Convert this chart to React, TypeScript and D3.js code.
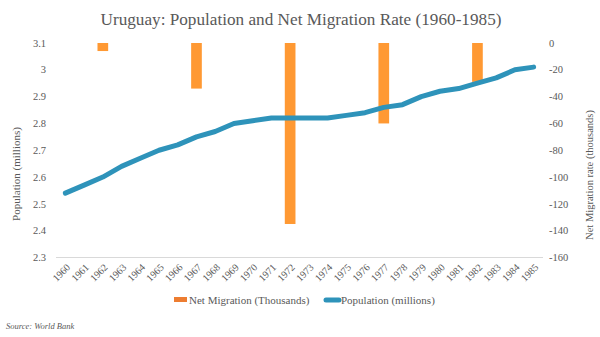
import React from "react";
import * as d3 from "d3";

const years = d3.range(1960, 1986).map(String);
const population = [2.54, 2.57, 2.60, 2.64, 2.67, 2.70, 2.72, 2.75, 2.77, 2.80, 2.81, 2.82, 2.82, 2.82, 2.82, 2.83, 2.84, 2.86, 2.87, 2.90, 2.92, 2.93, 2.95, 2.97, 3.00, 3.01];
const migrationYears = ["1962", "1967", "1972", "1977", "1982"];
const migration = [-6, -34, -135, -60, -29];
const leftTicks = [2.3, 2.4, 2.5, 2.6, 2.7, 2.8, 2.9, 3.0, 3.1];
const rightTicks = [0, -20, -40, -60, -80, -100, -120, -140, -160];

const FONT = "'Liberation Serif', 'DejaVu Serif', serif";
const TEXT = "#595959";

export default function App() {
  const W = 600, H = 337;
  const left = 56, right = 543, top = 43, bottom = 257.5;
  const x = d3.scaleBand<string>().domain(years).range([left, right]).paddingInner(0.43).paddingOuter(0.215);
  const xp = d3.scalePoint<string>().domain(years).range([left, right]).padding(0.5);
  const yL = d3.scaleLinear().domain([2.3, 3.1]).range([bottom, top]);
  const yR = d3.scaleLinear().domain([-160, 0]).range([bottom, top]);
  const line = d3.line<number>().x((_, i) => xp(years[i])!).y((d) => yL(d)).curve(d3.curveLinear);

  return (
    <svg width={W} height={H} style={{ position: "absolute", left: 0, top: 0, background: "#fff" }} fontFamily={FONT}>
      <rect width={W} height={H} fill="#fff" />
      <text x={301} y={25} textAnchor="middle" fontSize={17.2} fill={TEXT}>
        Uruguay: Population and Net Migration Rate (1960-1985)
      </text>
      <line x1={left} x2={right} y1={bottom} y2={bottom} stroke="#d9d9d9" strokeWidth={1} />
      {leftTicks.map((t) => (
        <text key={t} x={46} y={yL(t)} dy="0.35em" textAnchor="end" fontSize={10.5} fill={TEXT}>
          {d3.format("~g")(t)}
        </text>
      ))}
      {rightTicks.map((t) => (
        <text key={t} x={549} y={yR(t)} dy="0.35em" textAnchor="start" fontSize={10.5} fill={TEXT}>
          {String(t)}
        </text>
      ))}
      <text transform={`translate(20,174) rotate(-90)`} textAnchor="middle" fontSize={11} fill={TEXT}>
        Population (millions)
      </text>
      <text transform={`translate(593,175) rotate(-90)`} textAnchor="middle" fontSize={10.5} fill={TEXT}>
        Net Migration rate (thousands)
      </text>
      {migrationYears.map((yr, i) => (
        <rect key={yr} x={x(yr)} y={yR(0)} width={x.bandwidth()} height={yR(migration[i]) - yR(0)} fill="#FF9933" />
      ))}
      <path d={line(population)!} fill="none" stroke="#2E93BA" strokeWidth={5} strokeLinecap="round" strokeLinejoin="round" />
      {years.map((yr) => (
        <text key={yr} transform={`translate(${xp(yr)! + 3},${bottom + 8}) rotate(-45)`} textAnchor="end" dy="0.35em" fontSize={10} fill={TEXT}>
          {yr}
        </text>
      ))}
      <rect x={174} y={297} width={13} height={5} fill="#ED7D31" />
      <text x={189} y={300} dy="0.35em" fontSize={11} fill={TEXT}>Net Migration (Thousands)</text>
      <line x1={326} x2={339} y1={300} y2={300} stroke="#2E93BA" strokeWidth={5} strokeLinecap="round" />
      <text x={341} y={300} dy="0.35em" fontSize={11} fill={TEXT}>Population (millions)</text>
      <text x={6} y={329} fontSize={8.5} fontStyle="italic" fill={TEXT}>Source: World Bank</text>
    </svg>
  );
}
